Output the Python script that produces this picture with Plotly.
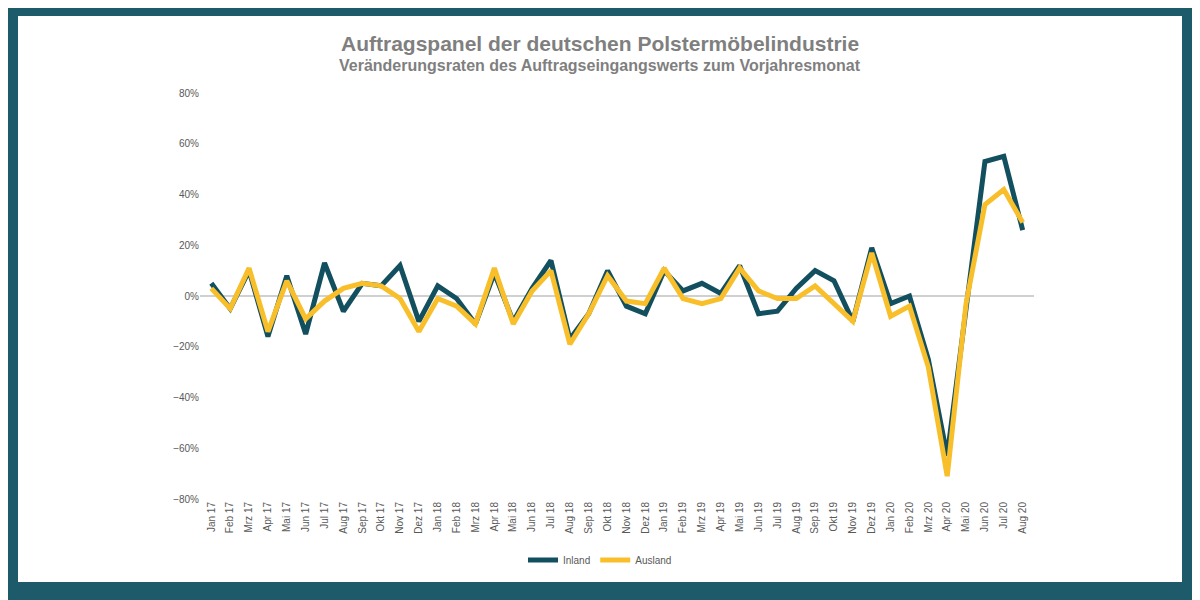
import plotly.graph_objects as go

months = ["Jan","Feb","Mrz","Apr","Mai","Jun","Jul","Aug","Sep","Okt","Nov","Dez"]
labels = [f"{m} {y}" for y in ["17","18","19","20"] for m in months][:44]
inland = [5,-5,10,-16,8,-15,13,-6,5,4,12,-10, 4,-1,-11,9,-10,3,14,-17,-7,10,-4,-7,
          10,2,5,1,12,-7,-6,3,10,6,-10,19, -3,0,-25,-63,-5,53,55,26]
ausland = [3,-5,11,-14,6,-9,-2,3,5,4,-1,-14, -1,-4,-11,11,-11,2,10,-19,-7,8,-2,-3,
           11,-1,-3,-1,11,2,-1,-1,4,-3,-10,17, -8,-4,-28,-71,-3,36,42,29]

fig = go.Figure()
fig.add_trace(go.Scatter(x=labels, y=[v/100 for v in inland], name="Inland", mode="lines",
                         line=dict(color="#124f5f", width=5)))
fig.add_trace(go.Scatter(x=labels, y=[v/100 for v in ausland], name="Ausland", mode="lines",
                         line=dict(color="#f8bf2a", width=5)))
OFF = 8.0
W = 834.0; H = 406.0; L = 200.0 - OFF; T = 93.0 - OFF
def px(x): return (x - OFF - L) / W
def py(y): return (T + H - (y - OFF)) / H
fig.add_shape(type="rect", xref="paper", yref="paper", x0=px(18), x1=px(1182), y0=py(582), y1=py(16),
              fillcolor="white", line=dict(width=0), layer="below")
fig.add_annotation(text="<b>Auftragspanel der deutschen Polstermöbelindustrie</b>", xref="paper", yref="paper",
                   x=px(600), y=py(30), showarrow=False, font=dict(family="Liberation Sans", size=21, color="#7f7f7f"))
fig.add_annotation(text="<b>Veränderungsraten des Auftragseingangswerts zum Vorjahresmonat</b>", xref="paper", yref="paper",
                   x=px(600), y=py(55), showarrow=False, font=dict(family="Liberation Sans", size=16, color="#7f7f7f"))
fig.update_layout(
    width=1200, height=600, paper_bgcolor="#1d5a6a", plot_bgcolor="white",
    margin=dict(l=L, r=1200 - L - W, t=T, b=600 - T - H, autoexpand=False),
    xaxis=dict(tickangle=-90, tickfont=dict(size=10, color="#595959", family="Liberation Sans"),
               showgrid=False, showline=False, range=[-0.6, 43.6], automargin=False),
    yaxis=dict(range=[-0.8, 0.8], dtick=0.2, tickformat=".0%", showgrid=False, zeroline=True,
               zerolinecolor="#d0d0d0", zerolinewidth=1.5, automargin=False,
               tickfont=dict(size=10, color="#595959", family="Liberation Sans")),
    showlegend=True,
    legend=dict(orientation="h", x=px(600), xanchor="center", y=py(560), yanchor="middle",
                bgcolor="rgba(0,0,0,0)", font=dict(size=10, color="#595959", family="Liberation Sans")),
)
fig.write_html("out.html")
